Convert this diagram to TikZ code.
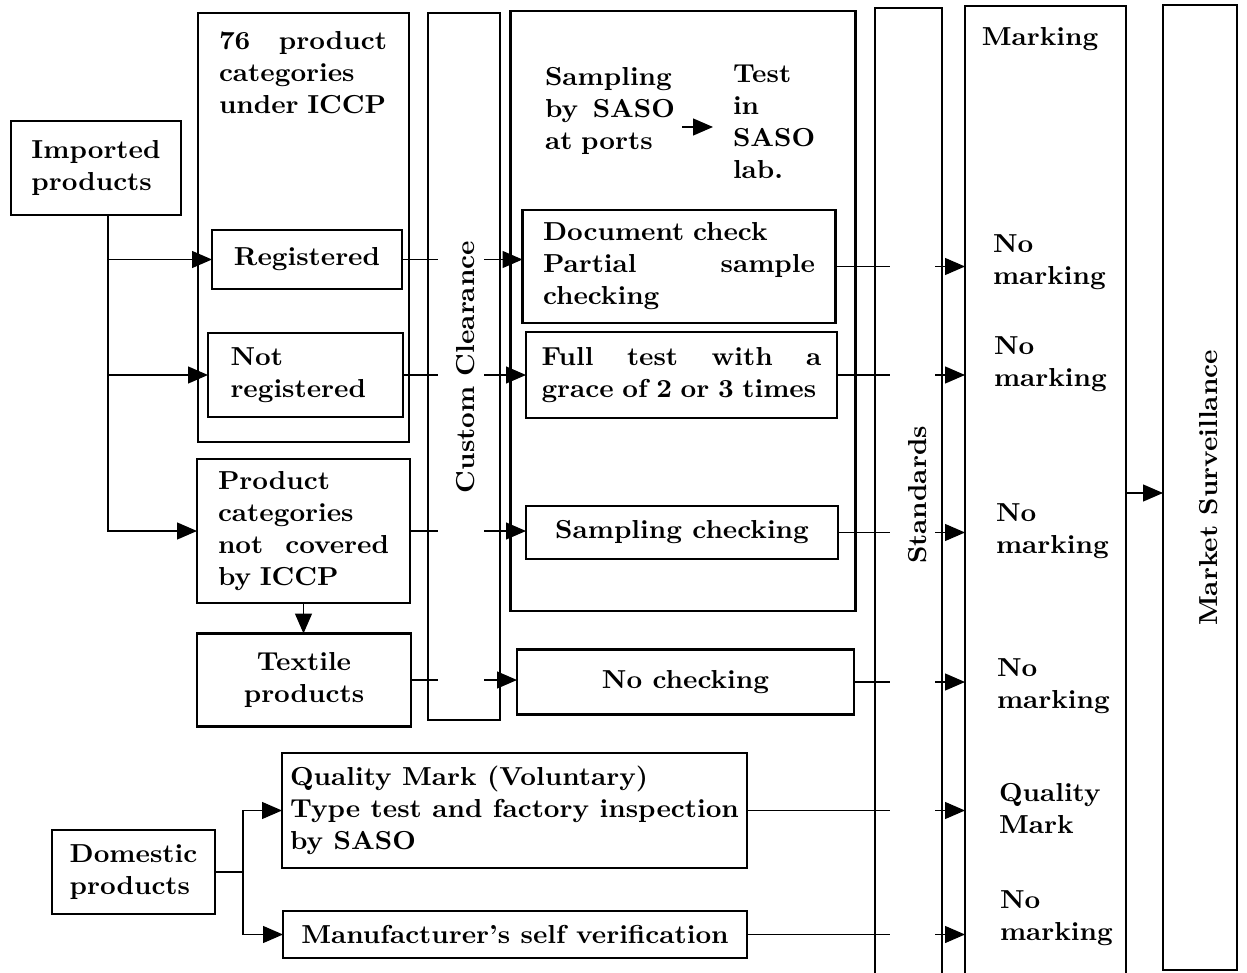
\documentclass[tikz,border=0pt]{standalone}
\usepackage{fontspec}
\setmainfont{lmroman10-regular.otf}[BoldFont=lmroman10-bold.otf,FakeStretch=1.05]
\usetikzlibrary{arrows.meta}
\newcommand{\myfill}{\hskip 0pt plus 1filll\relax}
\tikzset{
  box/.style={draw, line width=2.4pt, inner sep=0pt, outer sep=0pt},
  txt/.style={inner sep=0pt, outer sep=0pt, font=\bfseries\fontsize{26}{32}\selectfont, align=left},
  conn/.style={line width=1.3pt},
  arr/.style={conn, -{Triangle[length=20pt,width=17pt]}},
}
\begin{document}
\begin{tikzpicture}[x=1pt,y=-1pt]
\useasboundingbox (0,0) rectangle (1247,973);
\clip (0,0) rectangle (1247,973);
\fill[white] (0,0) rectangle (1247,973);

% left boxes
\node[box,txt,minimum width=170pt,minimum height=94pt] (imp) at (96,168) {Imported\\products};
\node[box,minimum width=211pt,minimum height=429pt] (cat) at (303.5,227.5) {};
\node[txt,anchor=north west,text width=168pt] (cattxt) at (219,31) {76\myfill product\\categories\\under ICCP};
\node[box,txt,minimum width=190pt,minimum height=59pt] (reg) at (307,259.5) {Registered};
\node[box,txt,minimum width=195pt,minimum height=84pt,text width=150pt] (notreg) at (305.5,375) {Not\\registered};
\node[box,txt,minimum width=213pt,minimum height=144pt,text width=171pt] (notcov) at (303.5,531) {Product\\categories\\not\myfill covered\\by ICCP};
\node[box,txt,align=center,minimum width=214pt,minimum height=93pt] (tex) at (304,680) {Textile\\products};

% columns
\node[box,minimum width=72pt,minimum height=707pt] (cc) at (464,366.5) {};
\node[box,minimum width=345pt,minimum height=600pt] (saso) at (683,311) {};
\node[box,minimum width=67pt,minimum height=1002pt] (std) at (908.5,509) {};
\node[box,minimum width=161pt,minimum height=1004pt] (mark) at (1045.5,508) {};
\node[box,minimum width=74pt,minimum height=965pt] (ms) at (1200,487.5) {};

% SASO column content
\node[txt,anchor=north west,text width=130pt] (samp) at (545,67) {Sampling\\by\myfill SASO\\at ports};
\node[txt,anchor=north west] (test) at (733,65) {Test\\in\\SASO\\lab.};
\node[box,txt,minimum width=313pt,minimum height=113pt,text width=272pt] (doc) at (679,266.5) {Document check\\Partial\myfill sample\\checking};
\node[box,txt,minimum width=311pt,minimum height=86pt,text width=280pt] (full) at (681.5,375) {Full\myfill test\myfill with\myfill a\\grace of 2 or 3 times};
\node[box,txt,minimum width=312pt,minimum height=53pt] (sc) at (682,532.5) {Sampling checking};
\node[box,txt,minimum width=337pt,minimum height=65pt] (nc) at (685.5,682) {No checking};

% domestic
\node[box,txt,minimum width=163pt,minimum height=84pt] (dom) at (133.5,872) {Domestic\\products};
\node[box,txt,minimum width=465pt,minimum height=115pt] (qm) at (514.5,810.5) {Quality Mark (Voluntary)\\Type test and factory inspection\\by SASO};
\node[box,txt,minimum width=464pt,minimum height=47pt] (mfr) at (515,934.5) {Manufacturer's self verification};

% marking labels
\node[txt] (mk) at (1040,39) {Marking};
\node[txt,anchor=west] (m1) at (993,262) {No\\marking};
\node[txt,anchor=west] (m2) at (994,364) {No\\marking};
\node[txt,anchor=west] (m3) at (996,531) {No\\marking};
\node[txt,anchor=west] (m4) at (997,686) {No\\marking};
\node[txt,anchor=west] (m5) at (999,809) {Quality\\Mark};
\node[txt,anchor=west] (m6) at (1000,918) {No\\marking};

% connectors
\coordinate (trunk) at (108,0);
\coordinate (dbr) at (243,0);
\coordinate (msy) at (0,493);
\coordinate (arry) at (0,127);
\draw[arr] (imp.south -| trunk) |- (notcov.west);
\draw[arr] (reg.west -| trunk) -- (reg.west);
\draw[arr] (notreg.west -| trunk) -- (notreg.west);
\draw[arr] (notcov.south) -- (notcov.south |- tex.north);
\draw[arr] (reg.east) -- (reg.east -| doc.west);
\draw[arr] (doc.east) -- (doc.east -| mark.west);
\draw[arr] (notreg.east) -- (notreg.east -| full.west);
\draw[arr] (full.east) -- (full.east -| mark.west);
\draw[arr] (notcov.east) -- (notcov.east -| sc.west);
\draw[arr] (sc.east) -- (sc.east -| mark.west);
\draw[arr] (tex.east) -- (tex.east -| nc.west);
\draw[arr] (nc.east) -- (nc.east -| mark.west);
\draw[arr] (qm.east) -- (qm.east -| mark.west);
\draw[arr] (mfr.east) -- (mfr.east -| mark.west);
\draw[conn] (dom.east) -- (dom.east -| dbr);
\draw[arr] (dom.east -| dbr) |- (qm.west);
\draw[arr] (dom.east -| dbr) |- (mfr.west);
\draw[arr] (mark.east |- msy) -- (ms.west |- msy);
\draw[arr,shorten <=7pt,shorten >=20pt] (samp.east |- arry) -- (test.west |- arry);

% gaps where the connectors pass the column labels
\fill[white] (438,20) rectangle (484,710);
\fill[white] (890,15) rectangle (935,973);

% rotated column labels
\node[txt,rotate=90] (cct) at (466,367) {Custom Clearance};
\node[txt,rotate=90] (stt) at (918,495) {Standards};
\node[txt,rotate=90] (mst) at (1209,488) {Market Surveillance};
\end{tikzpicture}
\end{document}
